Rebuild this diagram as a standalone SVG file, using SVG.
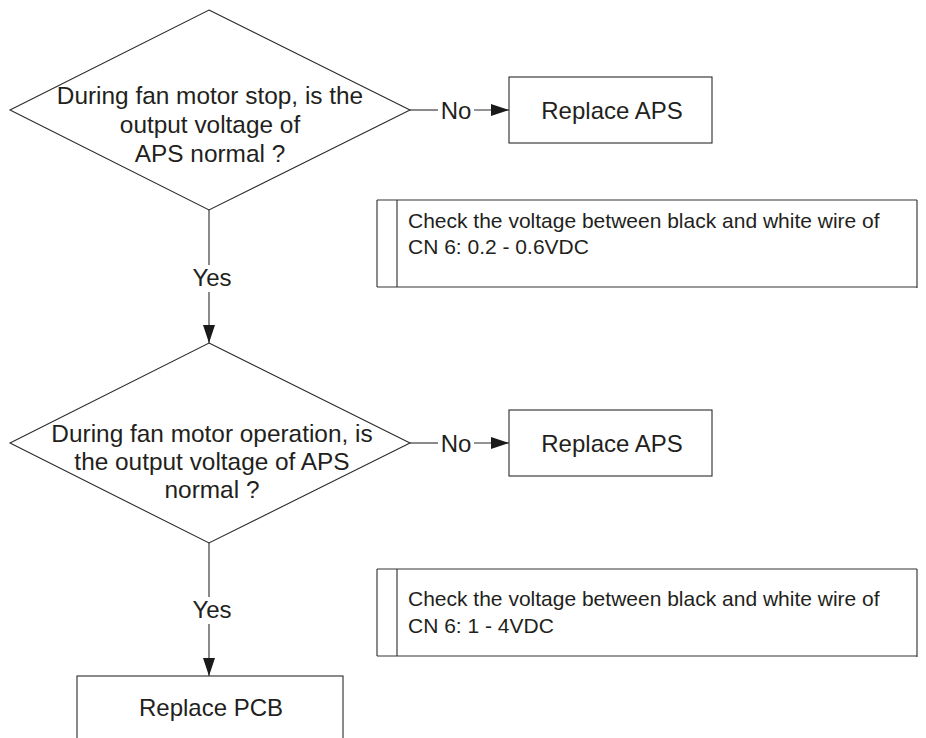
<svg xmlns="http://www.w3.org/2000/svg" width="926" height="738" viewBox="0 0 926 738">
<style>
  .shape { fill: #fff; stroke: #2a2a2a; stroke-width: 1.1; }
  .line { fill: none; stroke: #2a2a2a; stroke-width: 1.1; }
  .t { font-family: "Liberation Sans", Arial, sans-serif; font-size: 24px; fill: #231f20; text-anchor: middle; }
  .d { font-size: 24.4px; }
  .note { font-family: "Liberation Sans", Arial, sans-serif; font-size: 21px; fill: #231f20; }
  .nh { stroke: #777; stroke-width: 1.3; fill: none; }
  .nv { stroke: #2a2a2a; stroke-width: 1.1; fill: none; }
</style>
<defs>
  <marker id="arrow" viewBox="0 0 18 12" refX="18" refY="6" markerWidth="18" markerHeight="12" markerUnits="userSpaceOnUse" orient="auto">
    <path d="M0,0 L18,6 L0,12 Z" fill="#1a1a1a"/>
  </marker>
</defs>
<rect width="926" height="738" fill="#fff"/>

<g id="connectors">
  <line class="line" x1="410" y1="110" x2="438" y2="110"/>
  <line class="line" x1="474" y1="110" x2="509" y2="110" marker-end="url(#arrow)"/>
  <text class="t" x="456" y="119">No</text>

  <line class="line" x1="209" y1="210" x2="209" y2="265"/>
  <line class="line" x1="209" y1="292" x2="209" y2="343" marker-end="url(#arrow)"/>
  <text class="t" x="212" y="286">Yes</text>

  <line class="line" x1="410" y1="443" x2="438" y2="443"/>
  <line class="line" x1="474" y1="443" x2="509" y2="443" marker-end="url(#arrow)"/>
  <text class="t" x="456" y="452">No</text>

  <line class="line" x1="209" y1="543" x2="209" y2="597"/>
  <line class="line" x1="209" y1="624" x2="209" y2="676" marker-end="url(#arrow)"/>
  <text class="t" x="212" y="618">Yes</text>
</g>

<g id="decision1">
  <polygon class="shape" points="209,10 410,110 209,210 10,110"/>
  <text class="t d" x="210" y="104">During fan motor stop, is the</text>
  <text class="t d" x="210" y="133">output voltage of</text>
  <text class="t d" x="210" y="162">APS normal ?</text>
</g>

<g id="replace-aps-1">
  <rect class="shape" x="509" y="77" width="203" height="66"/>
  <text class="t" x="612" y="119">Replace APS</text>
</g>

<g id="note1">
  <line class="nh" x1="377" y1="200" x2="917" y2="200"/>
  <line class="nh" x1="377" y1="287" x2="917" y2="287"/>
  <line class="nv" x1="377" y1="200" x2="377" y2="287"/>
  <line class="nv" x1="397" y1="200" x2="397" y2="287"/>
  <line class="nv" x1="917" y1="200" x2="917" y2="288"/>
  <text class="note" x="408" y="228">Check the voltage between black and white wire of</text>
  <text class="note" x="408" y="254">CN 6: 0.2 - 0.6VDC</text>
</g>

<g id="decision2">
  <polygon class="shape" points="209,343 410,443 209,543 10,443"/>
  <text class="t d" x="212" y="442">During fan motor operation, is</text>
  <text class="t d" x="212" y="470">the output voltage of APS</text>
  <text class="t d" x="212" y="498">normal ?</text>
</g>

<g id="replace-aps-2">
  <rect class="shape" x="509" y="410" width="203" height="66"/>
  <text class="t" x="612" y="452">Replace APS</text>
</g>

<g id="note2">
  <line class="nh" x1="377" y1="569" x2="917" y2="569"/>
  <line class="nh" x1="377" y1="656" x2="917" y2="656"/>
  <line class="nv" x1="377" y1="569" x2="377" y2="656"/>
  <line class="nv" x1="397" y1="569" x2="397" y2="656"/>
  <line class="nv" x1="917" y1="569" x2="917" y2="657"/>
  <text class="note" x="408" y="606">Check the voltage between black and white wire of</text>
  <text class="note" x="408" y="633">CN 6: 1 - 4VDC</text>
</g>

<g id="replace-pcb">
  <rect class="shape" x="77" y="676" width="266" height="80"/>
  <text class="t" x="211" y="716">Replace PCB</text>
</g>
</svg>
